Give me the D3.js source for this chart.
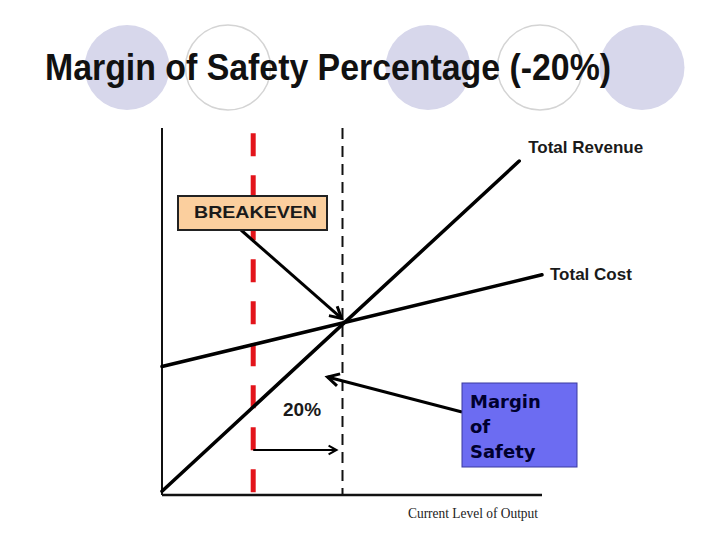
<!DOCTYPE html>
<html>
<head>
<meta charset="utf-8">
<script src="https://cdn.jsdelivr.net/npm/d3@7"></script>
<style>
  body { margin: 0; background: #fff; }
  svg { display: block; }
</style>
</head>
<body>
<div id="chart"></div>
<script>
// data (output units on x, money units on y)
var revenueX = [0, 94],
    revenueY = [1, 91];
var costX = [0, 100],
    costY = [35, 60];
var breakevenX = 24,
    currentX = 47.5;
var seriesNames = ["Total Revenue", "Total Cost"];
var marginPct = "20%";

// header circles (decoration)
var circleX = [127, 228, 428, 540, 642],
    circleFilled = [true, false, true, false, true];

var width = 720, height = 539;

var svg = d3.select("#chart").append("svg")
    .attr("width", width)
    .attr("height", height)
    .style("background", "#fff");

//header circles
svg.selectAll("circle.deco")
    .data(circleX)
    .enter().append("circle")
    .attr("class", "deco")
    .attr("cx", function(d) { return d; })
    .attr("cy", 67.5)
    .attr("r", 42.5)
    .style("fill", function(d, i) { return circleFilled[i] ? "#d7d7eb" : "none"; })
    .style("stroke", function(d, i) { return circleFilled[i] ? "none" : "#d4d4d4"; })
    .style("stroke-width", 1.5);

svg.append("text")
    .attr("x", 45)
    .attr("y", 80)
    .attr("textLength", 566)
    .attr("lengthAdjust", "spacingAndGlyphs")
    .text("Margin of Safety Percentage (-20%)")
    .style("font-family", "Liberation Sans, Arial, sans-serif")
    .style("font-weight", "bold")
    .style("font-size", "36px")
    .style("fill", "#111");

// scales
var x = d3.scaleLinear().domain([0, 100]).range([162, 542]);
var y = d3.scaleLinear().domain([0, 100]).range([495, 128]);

var g = svg.append("g");

// axes (no ticks, just the two lines)
g.append("line")
    .attr("x1", x(0)).attr("x2", x(0))
    .attr("y1", y(100)).attr("y2", y(0))
    .style("stroke", "#111").style("stroke-width", 2);
g.append("line")
    .attr("x1", x(0)).attr("x2", x(100))
    .attr("y1", y(0)).attr("y2", y(0))
    .style("stroke", "#111").style("stroke-width", 2.5);

g.append("text")
    .attr("x", 408)
    .attr("y", 518)
    .attr("textLength", 130)
    .attr("lengthAdjust", "spacingAndGlyphs")
    .text("Current Level of Output")
    .style("font-family", "Liberation Serif, serif")
    .style("font-size", "14px")
    .style("fill", "#222");

// breakeven (red) and current output (black) dashed lines
g.append("line")
    .attr("x1", x(breakevenX)).attr("x2", x(breakevenX))
    .attr("y1", y(98.6)).attr("y2", y(0.5))
    .style("stroke", "#e3141b")
    .style("stroke-width", 5)
    .style("stroke-dasharray", "23,19");

g.append("line")
    .attr("x1", x(currentX)).attr("x2", x(currentX))
    .attr("y1", y(100)).attr("y2", y(0))
    .style("stroke", "#111")
    .style("stroke-width", 2)
    .style("stroke-dasharray", "11,7");

// revenue & cost lines
var line = d3.line()
    .x(function(d) { return x(d[0]); })
    .y(function(d) { return y(d[1]); });

var revenue = d3.zip(revenueX, revenueY),
    cost = d3.zip(costX, costY);

[revenue, cost].forEach(function(s) {
    g.append("path")
        .datum(s)
        .attr("d", line)
        .style("fill", "none")
        .style("stroke", "#000")
        .style("stroke-width", 3.5)
        .style("stroke-linecap", "round");
});

// line labels
var labelPos = [[x(revenueX[1]) + 9, y(revenueY[1]) - 8], [x(costX[1]) + 8, y(costY[1]) + 5]];
seriesNames.forEach(function(n, i) {
    g.append("text")
        .attr("x", labelPos[i][0])
        .attr("y", labelPos[i][1])
        .text(n)
        .style("font-family", "Liberation Sans, Arial, sans-serif")
        .style("font-weight", "bold")
        .style("font-size", "17px")
        .style("fill", "#1a1a1a");
});

// intersection of revenue and cost
var rs = (revenueY[1] - revenueY[0]) / (revenueX[1] - revenueX[0]),
    cs = (costY[1] - costY[0]) / (costX[1] - costX[0]);
var ix = (costY[0] - revenueY[0]) / (rs - cs),
    iy = revenueY[0] + rs * ix;

//arrow helper, open v head
function arrow(x1, y1, x2, y2, w, len) {
    var a = Math.atan2(y2 - y1, x2 - x1),
        sp = 0.5;
    g.append("line")
        .attr("x1", x1).attr("y1", y1)
        .attr("x2", x2).attr("y2", y2)
        .style("stroke", "#000").style("stroke-width", w);
    g.append("path")
        .attr("d", "M" + (x2 - len * Math.cos(a - sp)) + "," + (y2 - len * Math.sin(a - sp)) +
            "L" + x2 + "," + y2 +
            "L" + (x2 - len * Math.cos(a + sp)) + "," + (y2 - len * Math.sin(a + sp)))
        .style("fill", "none")
        .style("stroke", "#000")
        .style("stroke-width", w)
        .style("stroke-linejoin", "miter");
}

// breakeven box + arrow
var bx = 178, by = 196, bw = 149, bh = 34;
arrow(241, by + bh, x(ix) - 3, y(iy) - 4, 3, 13);

g.append("rect")
    .attr("x", bx).attr("y", by)
    .attr("width", bw).attr("height", bh)
    .style("fill", "#fbcf9e")
    .style("stroke", "#222")
    .style("stroke-width", 2);
g.append("text")
    .attr("x", bx + 16)
    .attr("y", by + 22)
    .attr("textLength", 123)
    .attr("lengthAdjust", "spacingAndGlyphs")
    .text("BREAKEVEN")
    .style("font-family", "Liberation Sans, Arial, sans-serif")
    .style("font-weight", "bold")
    .style("font-size", "17px")
    .style("fill", "#1a1a1a");

// margin of safety box + arrow
var mx = 462, my = 383, mw = 115, mh = 84;
arrow(mx, 412, x(currentX) - 15, 377, 3, 13);

g.append("rect")
    .attr("x", mx).attr("y", my)
    .attr("width", mw).attr("height", mh)
    .style("fill", "#6c6cf2")
    .style("stroke", "#3a3aa0")
    .style("stroke-width", 1);

["Margin", "of", "Safety"].forEach(function(t, i) {
    g.append("text")
        .attr("x", mx + 8)
        .attr("y", my + 25 + i * 25)
        .text(t)
        .style("font-family", "DejaVu Sans, sans-serif")
        .style("font-weight", "bold")
        .style("font-size", "18px")
        .style("fill", "#00002e");
});

// 20% label and small arrow
g.append("text")
    .attr("x", 283)
    .attr("y", 416)
    .text(marginPct)
    .style("font-family", "Liberation Sans, Arial, sans-serif")
    .style("font-weight", "bold")
    .style("font-size", "19px")
    .style("fill", "#1a1a1a");

arrow(x(breakevenX), 450, x(currentX) - 6, 450, 2, 9);
</script>
</body>
</html>
